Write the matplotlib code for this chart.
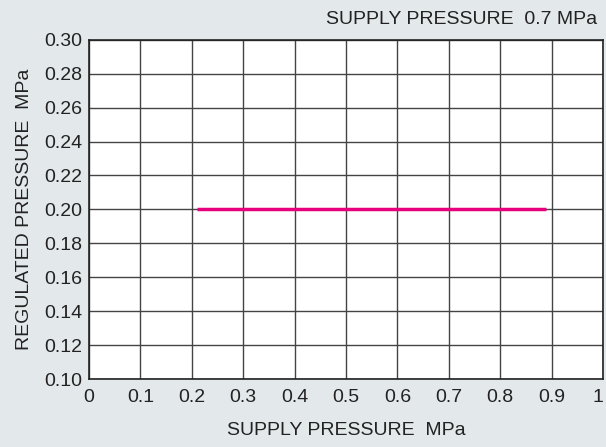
import matplotlib
matplotlib.use("Agg")
import matplotlib.pyplot as plt

supply = [0.21, 0.89]
regulated = [0.20, 0.20]
x_ticks = [0, 0.1, 0.2, 0.3, 0.4, 0.5, 0.6, 0.7, 0.8, 0.9, 1]
x_labels = ["0", "0.1", "0.2", "0.3", "0.4", "0.5", "0.6", "0.7", "0.8", "0.9", "1"]
y_ticks = [0.10, 0.12, 0.14, 0.16, 0.18, 0.20, 0.22, 0.24, 0.26, 0.28, 0.30]

plt.rcParams['font.family'] = ['Liberation Sans', 'DejaVu Sans']

bg = "#e3e8eb"
fig = plt.figure(figsize=(6.06, 4.47), dpi=100, facecolor=bg)
ax = fig.add_axes([0.147, 0.152, 0.848, 0.759])
ax.set_facecolor("white")

ax.plot(supply, regulated, color="#e6007e", linewidth=2.5, solid_capstyle="butt")

ax.set_xlim(0, 1)
ax.set_ylim(0.10, 0.30)
ax.set_xticks(x_ticks)
ax.set_xticklabels(x_labels)
ax.set_yticks(y_ticks)
ax.set_yticklabels([f"{v:.2f}" for v in y_ticks])
ax.grid(True, color="#444444", linewidth=1)
ax.tick_params(length=0, labelsize=14, colors="#222222")
ax.tick_params(axis="x", pad=7)
ax.tick_params(axis="y", pad=5)
ax.get_xticklabels()[-1].set_horizontalalignment("right")
for s in ax.spines.values():
    s.set_color("#222222")
    s.set_linewidth(1.2)

ax.set_xlabel("SUPPLY PRESSURE  MPa", fontsize=14, color="#222222", labelpad=12)
ax.set_ylabel("REGULATED PRESSURE  MPa", fontsize=14, color="#222222", labelpad=8)
fig.text(0.985, 0.957, "SUPPLY PRESSURE  0.7 MPa", ha="right", va="center",
         fontsize=14, color="#222222")

fig.savefig("out.png", dpi=100, facecolor=bg)
